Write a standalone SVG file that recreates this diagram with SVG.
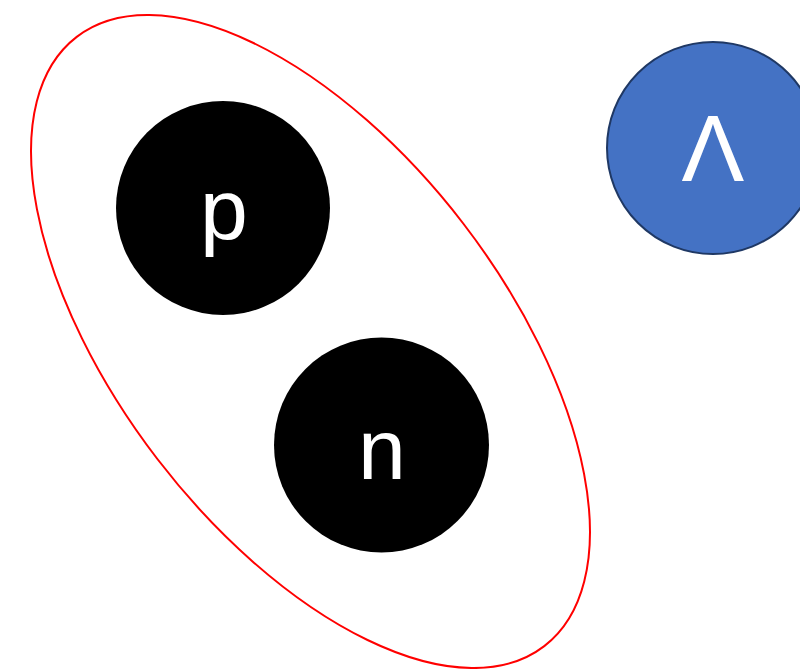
<svg xmlns="http://www.w3.org/2000/svg" width="800" height="669" viewBox="0 0 800 669">
<style>
.lbl{font-family:"Liberation Sans",Arial,sans-serif;fill:#fff;text-anchor:middle}
.nuc{fill:#000}
</style>
<rect width="800" height="669" fill="#fff"/>
<g id="deuteron">
<ellipse cx="310.5" cy="341.5" rx="384" ry="193" transform="rotate(52.5 310.5 341.5)" fill="none" stroke="#ff0000" stroke-width="2"/>
</g>
<g id="proton">
<circle class="nuc" cx="223" cy="208" r="107"/>
<text class="lbl" x="224" y="239" font-size="86">p</text>
</g>
<g id="neutron">
<circle class="nuc" cx="381.5" cy="445" r="107.5"/>
<text class="lbl" x="382" y="479" font-size="86">n</text>
</g>
<g id="lambda">
<circle cx="713" cy="148" r="106" fill="#4472c4" stroke="#1f3864" stroke-width="2"/>
<text class="lbl" x="713" y="181" font-size="94">Λ</text>
</g>
<g id="connectors"/>
</svg>
